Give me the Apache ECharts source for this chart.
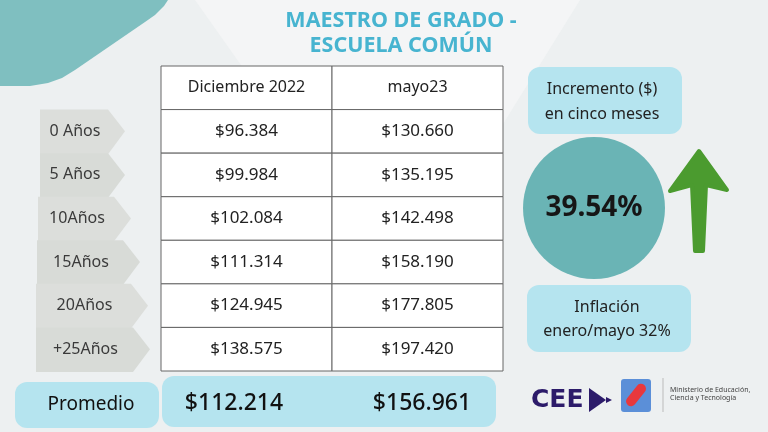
<!DOCTYPE html>
<html><head><meta charset="utf-8">
<script src="https://cdn.jsdelivr.net/npm/echarts@6/dist/echarts.min.js"></script>
<style>html,body{margin:0;padding:0;background:#edf0f1}#c{width:768px;height:432px}</style>
</head><body><div id="c"></div>
<script>
// ---- data ----
const titleLines = ['MAESTRO DE GRADO -', 'ESCUELA COMÚN'];
const columns = ['Diciembre 2022', 'mayo23'];
const rowLabels = ['0 Años', '5 Años', '10Años', '15Años', '20Años', '+25Años'];
const dic2022 = [96384, 99984, 102084, 111314, 124945, 138575];
const mayo23 = [130660, 135195, 142498, 158190, 177805, 197420];
const promedioLabel = 'Promedio';
const promedio = [112214, 156961];
const incrementoLabel = ['Incremento ($)', 'en cinco meses'];
const incrementoValue = '39.54%';
const inflacionLabel = ['Inflación', 'enero/mayo 32%'];

// ---- layout (not data) ----
const flagLeft = [40, 40, 38, 37, 36, 36];
const flagPoint = [125, 125, 131, 140, 148, 150];
const FONT = '"Noto Sans", Lato, sans-serif';

function fmt(v) { return '$' + String(v).replace(/\B(?=(\d{3})+(?!\d))/g, '.'); }

const tableData = [];
columns.forEach((c, i) => tableData.push({ value: [i, 0], text: c, header: true }));
rowLabels.forEach((r, j) => {
  tableData.push({ value: [0, j + 1], text: fmt(dic2022[j]) });
  tableData.push({ value: [1, j + 1], text: fmt(mayo23[j]) });
});
const flagData = rowLabels.map((r, j) => ({ value: [0, j + 1], text: r }));

const chart = echarts.init(document.getElementById('c'), null, { renderer: 'canvas' });
chart.setOption({
  backgroundColor: '#edf0f1',
  animation: false,
  grid: { left: 161, top: 66, width: 342, height: 305 },
  xAxis: { type: 'category', data: columns, show: false },
  yAxis: { type: 'category', data: [''].concat(rowLabels), inverse: true, show: false },
  graphic: [
    { type: 'polygon', z: -10, shape: { points: [[195, 0], [580, 0], [400, 290]] }, style: { fill: '#f4f5f6' } },
    { type: 'polygon', z: -5, shape: { points: [[0, 0], [168, 0], [164, 6], [155, 15], [145, 22], [75, 70], [62, 78], [48, 83], [30, 86], [0, 86]] }, style: { fill: '#7fbfc0' } },
    { type: 'text', x: 401, y: 21, style: { text: titleLines[0], align: 'center', verticalAlign: 'middle', fill: '#47b4d0', font: 'bold 21.5px ' + FONT } },
    { type: 'text', x: 401, y: 46, style: { text: titleLines[1], align: 'center', verticalAlign: 'middle', fill: '#47b4d0', font: 'bold 21.5px ' + FONT } },
    // Incremento box
    { type: 'rect', shape: { x: 528, y: 67, width: 154, height: 67, r: 12 }, style: { fill: '#b5e4ef' } },
    { type: 'text', x: 602, y: 89, style: { text: incrementoLabel[0], align: 'center', verticalAlign: 'middle', fill: '#222', font: '16px ' + FONT } },
    { type: 'text', x: 602, y: 114, style: { text: incrementoLabel[1], align: 'center', verticalAlign: 'middle', fill: '#222', font: '16px ' + FONT } },
    // circle
    { type: 'circle', shape: { cx: 594, cy: 208, r: 71 }, style: { fill: '#6ab4b5' } },
    { type: 'text', x: 594, y: 208, style: { text: incrementoValue, align: 'center', verticalAlign: 'middle', fill: '#161616', font: 'bold 28px ' + FONT } },
    // arrow
    { type: 'polygon', shape: { points: [[699, 151], [727, 190], [706, 185], [703, 251], [695, 251], [692, 185], [670, 191]] }, style: { fill: '#4b9b2f', stroke: '#4b9b2f', lineWidth: 4, lineJoin: 'round' } },
    // Inflacion box
    { type: 'rect', shape: { x: 527, y: 285, width: 164, height: 67, r: 12 }, style: { fill: '#b5e4ef' } },
    { type: 'text', x: 607, y: 307, style: { text: inflacionLabel[0], align: 'center', verticalAlign: 'middle', fill: '#222', font: '16px ' + FONT } },
    { type: 'text', x: 607, y: 331, style: { text: inflacionLabel[1], align: 'center', verticalAlign: 'middle', fill: '#222', font: '16px ' + FONT } },
    // Promedio
    { type: 'rect', shape: { x: 15, y: 382, width: 144, height: 46, r: 12 }, style: { fill: '#b5e4ef' } },
    { type: 'text', x: 91, y: 405, style: { text: promedioLabel, align: 'center', verticalAlign: 'middle', fill: '#111', font: '19px ' + FONT } },
    { type: 'rect', shape: { x: 162, y: 376, width: 334, height: 51, r: 12 }, style: { fill: '#b5e4ef' } },
    { type: 'text', x: 234, y: 403, style: { text: fmt(promedio[0]), align: 'center', verticalAlign: 'middle', fill: '#111', font: '500 23px ' + FONT } },
    { type: 'text', x: 422, y: 403, style: { text: fmt(promedio[1]), align: 'center', verticalAlign: 'middle', fill: '#111', font: '500 23px ' + FONT } },
    // logos
    { type: 'text', x: 531, y: 400, style: { text: 'CEE', align: 'left', verticalAlign: 'middle', fill: '#2c1b6a', font: '900 25px "DejaVu Sans", sans-serif' } },
    { type: 'polygon', shape: { points: [[589, 388], [606, 400], [589, 412]] }, style: { fill: '#2c1b6a' } },
    { type: 'polygon', shape: { points: [[606, 397], [612, 400], [606, 403]] }, style: { fill: '#2c1b6a' } },
    { type: 'rect', shape: { x: 621, y: 379, width: 30, height: 33, r: 3 }, style: { fill: '#5b8fd8' } },
    { type: 'rect', x: 636, y: 395, rotation: 0.9, shape: { x: -13, y: -5, width: 26, height: 10, r: 5 }, style: { fill: '#e8383d' } },
    { type: 'line', shape: { x1: 663, y1: 378, x2: 663, y2: 412 }, style: { stroke: '#bbbbbb', lineWidth: 1 } },
    { type: 'text', x: 670, y: 390, style: { text: 'Ministerio de Educación,', align: 'left', verticalAlign: 'middle', fill: '#444', font: '7px ' + FONT } },
    { type: 'text', x: 670, y: 398, style: { text: 'Ciencia y Tecnología', align: 'left', verticalAlign: 'middle', fill: '#444', font: '7px ' + FONT } }
  ],
  series: [
    {
      type: 'custom', data: flagData, z: 1,
      renderItem: function (params, api) {
        const i = params.dataIndex;
        const c = api.coord([0, api.value(1)]);
        const h = api.size([1, 1])[1];
        const top = c[1] - h / 2, bot = c[1] + h / 2;
        const L = flagLeft[i], P = flagPoint[i], R = P - 17;
        return {
          type: 'group', children: [
            { type: 'polygon', shape: { points: [[L, top], [R, top], [P, c[1]], [R, bot + 1], [L, bot + 1]] }, style: { fill: i % 2 ? '#d8dbd7' : '#dcdedb' } },
            { type: 'text', style: { x: (L + R) / 2 + 1, y: c[1], text: flagData[i].text, align: 'center', verticalAlign: 'middle', fill: '#3a3a3a', font: '16px ' + FONT } }
          ]
        };
      }
    },
    {
      type: 'custom', data: tableData, z: 2,
      renderItem: function (params, api) {
        const d = tableData[params.dataIndex];
        const c = api.coord([api.value(0), api.value(1)]);
        const s = api.size([1, 1]);
        return {
          type: 'group', children: [
            { type: 'rect', shape: { x: c[0] - s[0] / 2, y: c[1] - s[1] / 2, width: s[0], height: s[1] }, style: { fill: '#ffffff', stroke: '#666', lineWidth: 1 } },
            { type: 'text', style: { x: c[0], y: c[1], text: d.text, align: 'center', verticalAlign: 'middle', fill: '#222', font: (d.header ? '16px ' : '17px ') + FONT } }
          ]
        };
      }
    }
  ]
});
</script></body></html>
